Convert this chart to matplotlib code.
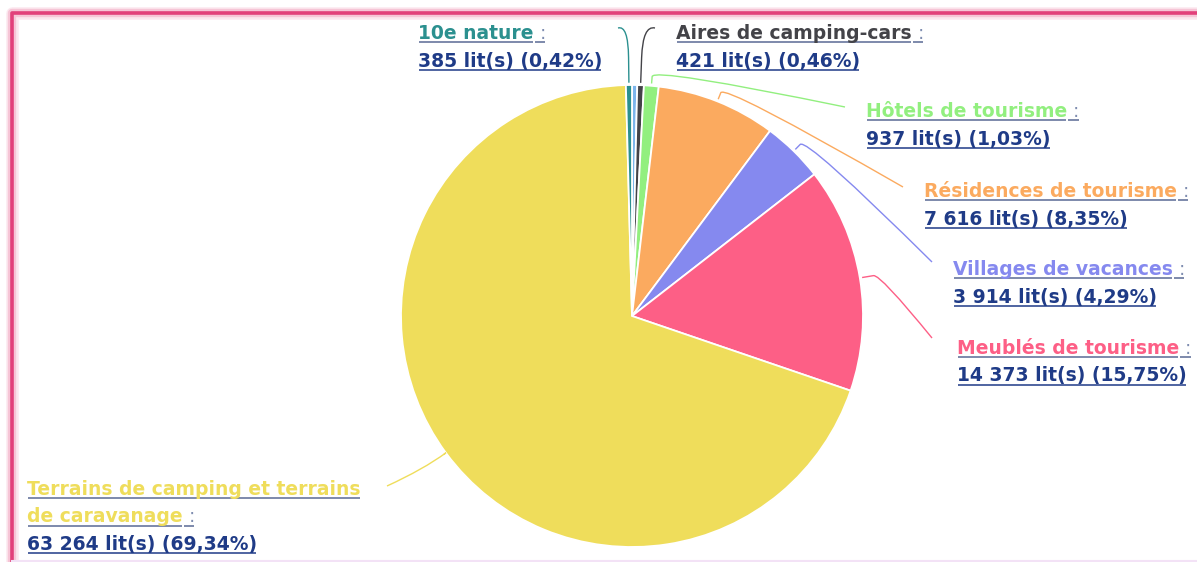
import matplotlib
matplotlib.use("Agg")
import matplotlib.pyplot as plt
from matplotlib.path import Path
from matplotlib.patches import PathPatch
from matplotlib.lines import Line2D
import numpy as np

# slices, clockwise from 12 o'clock (Highcharts order)
names = [None, "Aires de camping-cars", "Hôtels de tourisme", "Résidences de tourisme",
         "Villages de vacances", "Meublés de tourisme",
         "Terrains de camping et terrains\nde caravanage", "10e nature"]
values = [330, 421, 937, 7616, 3914, 14373, 63264, 385]
colors = ["#7cb5ec", "#434348", "#92ef7f", "#fbaa5f", "#8589ef", "#fd5f86", "#efdd5b", "#2b908f"]

W, H = 1197, 562
CX, CY, R = 632, 316, 231

# label layout in pixels: (left x, first baseline, knee radius, control radius, connector end)
layout = {
    1: (676, 39, 1.12, 1.26, (655, 28)),
    2: (866, 117, 1.04, 1.08, (845, 107)),
    3: (924, 197, 1.04, 1.08, (903, 187)),
    4: (953, 275, 1.04, 1.08, (932, 262)),
    5: (957, 354, 1.06, 1.09, (932, 338)),
    6: (27, 495, 1.0, 1.12, (387, 486)),
    7: (418, 39, 1.12, 1.26, (618, 28)),
}

VALUE_COLOR = "#1f3b87"
COLON_COLOR = "#7f8db0"
LINE_GAP = 27.5
FS = 13.5


def d(x, y):
    return (x - CX) / R, (CY - y) / R


def fmt_int(v):
    return f"{v:,}".replace(",", " ")


fig = plt.figure(figsize=(W / 100, H / 100), dpi=100)
ax = fig.add_axes([0, 0, 1, 1])

wedges, _ = ax.pie(values, colors=colors, startangle=90, counterclock=False, radius=1,
                   wedgeprops=dict(edgecolor="white", linewidth=1.3))
ax.set_xlim(-CX / R, (W - CX) / R)
ax.set_ylim(-(H - CY) / R, CY / R)
ax.set_aspect("equal", adjustable="box")
ax.axis("off")

total = sum(values)
texts = []  # (text artist, baseline px, underline colour)
for i, name in enumerate(names):
    if name is None:
        continue
    lx, by, rk, rc, end = layout[i]
    col = colors[i]

    # connector
    w = wedges[i]
    a = np.deg2rad((w.theta1 + w.theta2) / 2)
    u = np.array([np.cos(a), np.sin(a)])
    pts = [u * 1.01, u * rk, u * rc, np.array(d(*end))]
    path = Path(pts, [Path.MOVETO, Path.LINETO, Path.CURVE3, Path.CURVE3])
    ax.add_patch(PathPatch(path, fill=False, edgecolor=col, lw=1.0))

    lines = name.split("\n")
    for k, ln in enumerate(lines):
        y = by + k * LINE_GAP
        t = ax.text(*d(lx, y), ln, color=col, fontsize=FS, fontweight="bold",
                    ha="left", va="baseline")
        texts.append((t, y, "#5a6a95"))
        if k == len(lines) - 1:
            c = ax.annotate(" :", xy=(1, 0), xycoords=t, color=COLON_COLOR, fontsize=FS,
                            ha="left", va="bottom")
            texts.append((c, y, "#5a6a95"))
    y = by + len(lines) * LINE_GAP
    pct = f"{100 * values[i] / total:.2f}".replace(".", ",")
    t = ax.text(*d(lx, y), f"{fmt_int(values[i])} lit(s) ({pct}%)", color=VALUE_COLOR,
                fontsize=FS, fontweight="bold", ha="left", va="baseline")
    texts.append((t, y, VALUE_COLOR))

# underlines
fig.canvas.draw()
rend = fig.canvas.get_renderer()
for t, y, ucol in texts:
    bb = t.get_window_extent(rend)
    x0 = (bb.x0 + 1 - CX) / R
    x1 = (bb.x1 - 1 - CX) / R
    yy = (CY - (y + 3)) / R
    ax.plot([x0, x1], [yy, yy], color=ucol, lw=1.1, solid_capstyle="butt")

# pink frame (top and left visible), with soft glow
for lw, alpha in [(9, 0.12), (6, 0.2), (2.6, 1.0)]:
    fig.add_artist(Line2D([12 / W, 12 / W, 1.0], [0.0, 1 - 13 / H, 1 - 13 / H],
                          transform=fig.transFigure, color="#e2407a", lw=lw,
                          alpha=alpha, solid_joinstyle="round"))
fig.add_artist(Line2D([12 / W, 1.0], [0.6 / H, 0.6 / H], transform=fig.transFigure,
                      color="#f3e2f6", lw=1.5))

fig.savefig("out.png", dpi=100)
